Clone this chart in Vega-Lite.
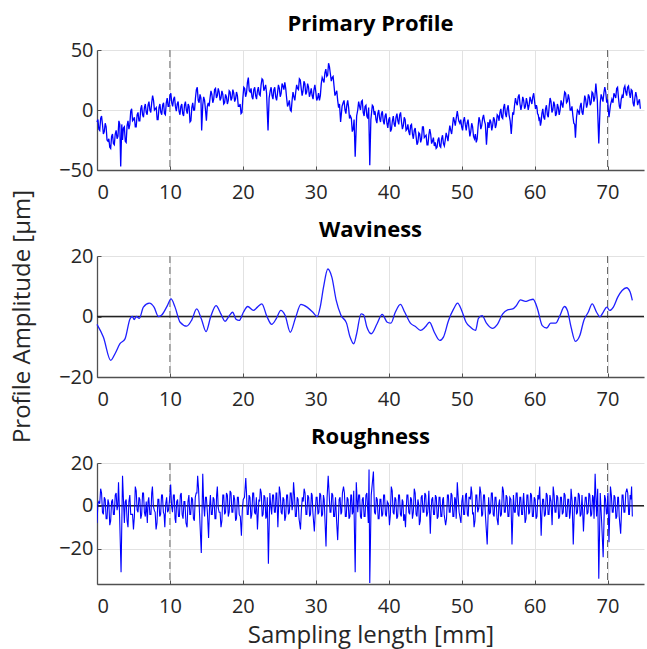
{
  "$schema": "https://vega.github.io/schema/vega-lite/v6.json",
  "padding": {"left": 10, "top": 13, "right": 0, "bottom": 30},
  "spacing": 86,
  "bounds": "flush",
  "datasets": {
    "dash": [{"x": 10}, {"x": 70}],
    "zero": [{"y": 0}],
    "primary": [
      {"x":0,"y":-10},{"x":0.25,"y":-16},{"x":0.5,"y":-7},{"x":0.75,"y":-12},{"x":1,"y":-18},{"x":1.25,"y":-14},{"x":1.5,"y":-26},{"x":1.75,"y":-31},{"x":2,"y":-22},{"x":2.25,"y":-28},{"x":2.5,"y":-20},{"x":2.75,"y":-24},{"x":3,"y":-9},{"x":3.25,"y":-47},{"x":3.4,"y":-12},{"x":3.5,"y":-25},{"x":3.75,"y":-14},{"x":4,"y":-27},{"x":4.25,"y":-9},{"x":4.5,"y":-12},{"x":4.75,"y":1},{"x":5,"y":-8},{"x":5.25,"y":-14},{"x":5.5,"y":-4},{"x":5.75,"y":-9},{"x":6,"y":1},{"x":6.25,"y":-4},{"x":6.5,"y":2},{"x":6.75,"y":-2},{"x":7,"y":4},{"x":7.25,"y":0},{"x":7.5,"y":6},{"x":7.75,"y":8},{"x":8,"y":1},{"x":8.25,"y":-8},{"x":8.5,"y":2},{"x":8.75,"y":-2},{"x":9,"y":4},{"x":9.25,"y":-3},{"x":9.5,"y":6},{"x":9.75,"y":3},
      {"x":10,"y":12},{"x":10.25,"y":6},{"x":10.5,"y":9},{"x":10.75,"y":3},{"x":11,"y":5},{"x":11.25,"y":-1},{"x":11.5,"y":3},{"x":11.75,"y":-3},{"x":12,"y":4},{"x":12.25,"y":0},{"x":12.5,"y":5},{"x":12.75,"y":-10},{"x":13,"y":2},{"x":13.25,"y":0},{"x":13.5,"y":10},{"x":13.75,"y":19},{"x":14,"y":6},{"x":14.25,"y":10},{"x":14.35,"y":-17},{"x":14.5,"y":4},{"x":14.75,"y":8},{"x":15,"y":-9},{"x":15.25,"y":6},{"x":15.5,"y":10},{"x":15.75,"y":13},{"x":16,"y":9},{"x":16.25,"y":18},{"x":16.5,"y":12},{"x":16.75,"y":15},{"x":17,"y":10},{"x":17.25,"y":13},{"x":17.5,"y":6},{"x":17.75,"y":11},{"x":18,"y":8},{"x":18.25,"y":15},{"x":18.5,"y":10},{"x":18.75,"y":14},{"x":19,"y":9},{"x":19.25,"y":12},{"x":19.5,"y":3},{"x":19.75,"y":-3},
      {"x":20,"y":10},{"x":20.25,"y":18},{"x":20.5,"y":14},{"x":20.75,"y":27},{"x":21,"y":15},{"x":21.25,"y":11},{"x":21.5,"y":17},{"x":21.75,"y":12},{"x":22,"y":16},{"x":22.25,"y":13},{"x":22.5,"y":21},{"x":22.75,"y":25},{"x":23,"y":18},{"x":23.25,"y":14},{"x":23.45,"y":-17},{"x":23.6,"y":10},{"x":23.75,"y":16},{"x":24,"y":12},{"x":24.25,"y":17},{"x":24.5,"y":11},{"x":24.75,"y":14},{"x":25,"y":18},{"x":25.25,"y":14},{"x":25.5,"y":20},{"x":25.75,"y":23},{"x":26,"y":10},{"x":26.25,"y":5},{"x":26.5,"y":0},{"x":26.75,"y":8},{"x":27,"y":11},{"x":27.25,"y":15},{"x":27.5,"y":18},{"x":27.75,"y":26},{"x":28,"y":18},{"x":28.25,"y":16},{"x":28.5,"y":22},{"x":28.75,"y":15},{"x":29,"y":19},{"x":29.25,"y":14},{"x":29.5,"y":12},{"x":29.75,"y":17},
      {"x":30,"y":15},{"x":30.25,"y":10},{"x":30.5,"y":8},{"x":30.75,"y":22},{"x":31,"y":25},{"x":31.25,"y":31},{"x":31.5,"y":28},{"x":31.75,"y":39},{"x":32,"y":30},{"x":32.25,"y":27},{"x":32.5,"y":20},{"x":32.75,"y":14},{"x":33,"y":8},{"x":33.25,"y":5},{"x":33.4,"y":-10},{"x":33.6,"y":3},{"x":33.75,"y":6},{"x":34,"y":0},{"x":34.25,"y":4},{"x":34.5,"y":2},{"x":34.75,"y":-5},{"x":35,"y":-18},{"x":35.25,"y":-8},{"x":35.4,"y":-39},{"x":35.6,"y":-5},{"x":35.75,"y":0},{"x":36,"y":3},{"x":36.25,"y":7},{"x":36.5,"y":-2},{"x":36.75,"y":3},{"x":37,"y":-5},{"x":37.25,"y":2},{"x":37.4,"y":-46},{"x":37.55,"y":-8},{"x":37.75,"y":4},{"x":38,"y":-4},{"x":38.25,"y":-8},{"x":38.5,"y":-3},{"x":38.75,"y":-7},{"x":39,"y":-3},{"x":39.25,"y":-9},{"x":39.5,"y":-5},{"x":39.75,"y":-11},
      {"x":40,"y":-8},{"x":40.25,"y":-18},{"x":40.5,"y":-9},{"x":40.75,"y":-12},{"x":41,"y":-6},{"x":41.25,"y":-9},{"x":41.5,"y":-4},{"x":41.75,"y":-10},{"x":42,"y":-13},{"x":42.25,"y":-8},{"x":42.5,"y":-16},{"x":42.75,"y":-18},{"x":43,"y":-13},{"x":43.25,"y":-20},{"x":43.5,"y":-17},{"x":43.75,"y":-22},{"x":44,"y":-27},{"x":44.25,"y":-20},{"x":44.5,"y":-24},{"x":44.75,"y":-14},{"x":45,"y":-22},{"x":45.25,"y":-29},{"x":45.5,"y":-21},{"x":45.75,"y":-20},{"x":46,"y":-26},{"x":46.25,"y":-30},{"x":46.5,"y":-32},{"x":46.75,"y":-25},{"x":47,"y":-30},{"x":47.25,"y":-24},{"x":47.5,"y":-28},{"x":47.75,"y":-25},{"x":48,"y":-22},{"x":48.25,"y":-19},{"x":48.5,"y":-17},{"x":48.75,"y":-13},{"x":49,"y":-9},{"x":49.25,"y":-7},{"x":49.4,"y":-1},{"x":49.6,"y":-9},{"x":49.75,"y":-11},
      {"x":50,"y":-14},{"x":50.25,"y":-9},{"x":50.5,"y":-12},{"x":50.75,"y":-11},{"x":51,"y":-15},{"x":51.25,"y":-18},{"x":51.5,"y":-14},{"x":51.75,"y":-24},{"x":52,"y":-27},{"x":52.25,"y":-14},{"x":52.5,"y":-9},{"x":52.75,"y":-13},{"x":53,"y":-4},{"x":53.25,"y":-12},{"x":53.4,"y":-29},{"x":53.6,"y":-10},{"x":53.75,"y":-15},{"x":54,"y":-10},{"x":54.25,"y":-13},{"x":54.5,"y":-8},{"x":54.75,"y":-12},{"x":55,"y":-5},{"x":55.25,"y":-2},{"x":55.5,"y":-6},{"x":55.75,"y":2},{"x":56,"y":-3},{"x":56.25,"y":1},{"x":56.5,"y":-4},{"x":56.8,"y":-20},{"x":57,"y":-2},{"x":57.25,"y":4},{"x":57.5,"y":6},{"x":57.75,"y":11},{"x":58,"y":5},{"x":58.25,"y":4},{"x":58.5,"y":8},{"x":58.75,"y":3},{"x":59,"y":6},{"x":59.25,"y":4},{"x":59.5,"y":8},{"x":59.75,"y":11},
      {"x":60,"y":7},{"x":60.25,"y":4},{"x":60.4,"y":-3},{"x":60.6,"y":-8},{"x":60.8,"y":-13},{"x":61,"y":-3},{"x":61.25,"y":-6},{"x":61.5,"y":1},{"x":61.75,"y":-4},{"x":62,"y":3},{"x":62.25,"y":7},{"x":62.5,"y":0},{"x":62.75,"y":4},{"x":63,"y":-3},{"x":63.25,"y":2},{"x":63.5,"y":0},{"x":63.75,"y":5},{"x":64,"y":9},{"x":64.25,"y":14},{"x":64.5,"y":7},{"x":64.75,"y":9},{"x":65,"y":0},{"x":65.25,"y":-5},{"x":65.5,"y":-12},{"x":65.6,"y":-23},{"x":65.75,"y":-6},{"x":66,"y":-1},{"x":66.25,"y":3},{"x":66.5,"y":-2},{"x":66.75,"y":4},{"x":67,"y":9},{"x":67.25,"y":5},{"x":67.5,"y":11},{"x":67.75,"y":6},{"x":68,"y":14},{"x":68.25,"y":10},{"x":68.4,"y":22},{"x":68.6,"y":8},{"x":68.8,"y":-28},{"x":69,"y":6},{"x":69.25,"y":10},{"x":69.5,"y":14},{"x":69.75,"y":15},
      {"x":70,"y":8},{"x":70.2,"y":-6},{"x":70.4,"y":4},{"x":70.6,"y":9},{"x":70.75,"y":6},{"x":71,"y":12},{"x":71.25,"y":18},{"x":71.5,"y":10},{"x":71.75,"y":1},{"x":72,"y":12},{"x":72.25,"y":18},{"x":72.5,"y":15},{"x":72.75,"y":19},{"x":73,"y":14},{"x":73.25,"y":17},{"x":73.5,"y":6},{"x":73.75,"y":10},{"x":74,"y":11},{"x":74.25,"y":7},{"x":74.5,"y":1},
      {"x":0.125,"y":-8},{"x":0.375,"y":-17},{"x":0.625,"y":-5},{"x":0.875,"y":-20},{"x":1.125,"y":-11},{"x":1.375,"y":-25},{"x":1.625,"y":-24},{"x":1.875,"y":-32},{"x":2.125,"y":-20},{"x":2.375,"y":-29},{"x":2.625,"y":-17},{"x":2.875,"y":-22},{"x":3.125,"y":-12},{"x":3.625,"y":-15},{"x":3.875,"y":-26},{"x":4.125,"y":-13},{"x":4.375,"y":-16},{"x":4.625,"y":-1},{"x":4.875,"y":-9},{"x":5.125,"y":-6},{"x":5.375,"y":-14},{"x":5.625,"y":-2},{"x":5.875,"y":-9},{"x":6.125,"y":4},{"x":6.375,"y":-6},{"x":6.625,"y":5},{"x":6.875,"y":-4},{"x":7.125,"y":7},{"x":7.375,"y":-2},{"x":7.625,"y":12},{"x":7.875,"y":0},{"x":8.125,"y":2},{"x":8.375,"y":-8},{"x":8.625,"y":5},{"x":8.875,"y":-4},{"x":9.125,"y":6},{"x":9.375,"y":-4},{"x":9.625,"y":10},{"x":9.875,"y":3},
      {"x":10.125,"y":14},{"x":10.375,"y":3},{"x":10.625,"y":11},{"x":10.875,"y":-1},{"x":11.125,"y":7},{"x":11.375,"y":-4},{"x":11.625,"y":5},{"x":11.875,"y":-5},{"x":12.125,"y":7},{"x":12.375,"y":-3},{"x":12.625,"y":3},{"x":12.875,"y":-9},{"x":13.125,"y":6},{"x":13.375,"y":0},{"x":13.625,"y":17},{"x":13.875,"y":8},{"x":14.125,"y":13},{"x":14.625,"y":11},{"x":14.875,"y":0},{"x":15.125,"y":3},{"x":15.375,"y":3},{"x":15.625,"y":16},{"x":15.875,"y":6},{"x":16.125,"y":17},{"x":16.375,"y":10},{"x":16.625,"y":18},{"x":16.875,"y":8},{"x":17.125,"y":16},{"x":17.375,"y":5},{"x":17.625,"y":13},{"x":17.875,"y":5},{"x":18.125,"y":16},{"x":18.375,"y":8},{"x":18.625,"y":17},{"x":18.875,"y":7},{"x":19.125,"y":15},{"x":19.375,"y":3},{"x":19.625,"y":5},{"x":19.875,"y":-2},
      {"x":20.125,"y":19},{"x":20.375,"y":11},{"x":20.625,"y":23},{"x":20.875,"y":16},{"x":21.125,"y":18},{"x":21.375,"y":9},{"x":21.625,"y":19},{"x":21.875,"y":9},{"x":22.125,"y":19},{"x":22.375,"y":12},{"x":22.625,"y":26},{"x":22.875,"y":16},{"x":23.125,"y":21},{"x":23.875,"y":19},{"x":24.125,"y":9},{"x":24.375,"y":19},{"x":24.625,"y":8},{"x":24.875,"y":21},{"x":25.125,"y":11},{"x":25.375,"y":22},{"x":25.625,"y":17},{"x":25.875,"y":18},{"x":26.125,"y":3},{"x":26.375,"y":8},{"x":26.625,"y":-1},{"x":26.875,"y":15},{"x":27.125,"y":8},{"x":27.375,"y":21},{"x":27.625,"y":17},{"x":27.875,"y":25},{"x":28.125,"y":12},{"x":28.375,"y":24},{"x":28.625,"y":13},{"x":28.875,"y":22},{"x":29.125,"y":11},{"x":29.375,"y":18},{"x":29.625,"y":9},{"x":29.875,"y":21},
      {"x":30.125,"y":8},{"x":30.375,"y":14},{"x":30.625,"y":12},{"x":30.875,"y":27},{"x":31.125,"y":23},{"x":31.375,"y":34},{"x":31.625,"y":29},{"x":31.875,"y":36},{"x":32.125,"y":24},{"x":32.375,"y":28},{"x":32.625,"y":12},{"x":32.875,"y":16},{"x":33.125,"y":2},{"x":33.875,"y":8},{"x":34.125,"y":-3},{"x":34.375,"y":8},{"x":34.625,"y":-7},{"x":34.875,"y":-7},{"x":35.125,"y":-16},{"x":35.875,"y":7},{"x":36.125,"y":0},{"x":36.375,"y":8},{"x":36.625,"y":-5},{"x":36.875,"y":4},{"x":37.125,"y":-7},{"x":37.875,"y":3},{"x":38.125,"y":-1},{"x":38.375,"y":-11},{"x":38.625,"y":0},{"x":38.875,"y":-10},{"x":39.125,"y":-1},{"x":39.375,"y":-12},{"x":39.625,"y":-3},{"x":39.875,"y":-15},
      {"x":40.125,"y":-6},{"x":40.375,"y":-16},{"x":40.625,"y":-5},{"x":40.875,"y":-14},{"x":41.125,"y":-3},{"x":41.375,"y":-12},{"x":41.625,"y":-2},{"x":41.875,"y":-16},{"x":42.125,"y":-6},{"x":42.375,"y":-17},{"x":42.625,"y":-12},{"x":42.875,"y":-21},{"x":43.125,"y":-12},{"x":43.375,"y":-24},{"x":43.625,"y":-15},{"x":43.875,"y":-29},{"x":44.125,"y":-19},{"x":44.375,"y":-27},{"x":44.625,"y":-14},{"x":44.875,"y":-23},{"x":45.125,"y":-21},{"x":45.375,"y":-29},{"x":45.625,"y":-16},{"x":45.875,"y":-28},{"x":46.125,"y":-23},{"x":46.375,"y":-27},{"x":46.625,"y":-31},{"x":46.875,"y":-23},{"x":47.125,"y":-31},{"x":47.375,"y":-21},{"x":47.625,"y":-30},{"x":47.875,"y":-19},{"x":48.125,"y":-26},{"x":48.375,"y":-13},{"x":48.625,"y":-20},{"x":48.875,"y":-6},{"x":49.125,"y":-13},{"x":49.875,"y":-8},
      {"x":50.125,"y":-17},{"x":50.375,"y":-6},{"x":50.625,"y":-17},{"x":50.875,"y":-8},{"x":51.125,"y":-22},{"x":51.375,"y":-11},{"x":51.625,"y":-22},{"x":51.875,"y":-20},{"x":52.125,"y":-24},{"x":52.375,"y":-6},{"x":52.625,"y":-16},{"x":52.875,"y":-7},{"x":53.125,"y":-9},{"x":53.875,"y":-8},{"x":54.125,"y":-17},{"x":54.375,"y":-6},{"x":54.625,"y":-15},{"x":54.875,"y":-4},{"x":55.125,"y":-9},{"x":55.375,"y":1},{"x":55.625,"y":-7},{"x":55.875,"y":5},{"x":56.125,"y":-6},{"x":56.375,"y":4},{"x":56.65,"y":-9},{"x":57.125,"y":-4},{"x":57.375,"y":10},{"x":57.625,"y":4},{"x":57.875,"y":13},{"x":58.125,"y":0},{"x":58.375,"y":11},{"x":58.625,"y":1},{"x":58.875,"y":10},{"x":59.125,"y":0},{"x":59.375,"y":11},{"x":59.625,"y":5},{"x":59.875,"y":14},
      {"x":60.125,"y":1},{"x":60.325,"y":2},{"x":60.5,"y":-4},{"x":60.7,"y":-7},{"x":60.9,"y":-10},{"x":61.125,"y":1},{"x":61.375,"y":-8},{"x":61.625,"y":4},{"x":61.875,"y":-6},{"x":62.125,"y":10},{"x":62.375,"y":-2},{"x":62.625,"y":7},{"x":62.875,"y":-5},{"x":63.125,"y":5},{"x":63.375,"y":-4},{"x":63.625,"y":8},{"x":63.875,"y":2},{"x":64.125,"y":15},{"x":64.375,"y":6},{"x":64.625,"y":13},{"x":64.875,"y":0},{"x":65.125,"y":3},{"x":65.375,"y":-11},{"x":65.875,"y":0},{"x":66.125,"y":-4},{"x":66.375,"y":6},{"x":66.625,"y":-4},{"x":66.875,"y":12},{"x":67.125,"y":2},{"x":67.375,"y":13},{"x":67.625,"y":4},{"x":67.875,"y":15},{"x":68.125,"y":7},{"x":69.125,"y":13},{"x":69.375,"y":7},{"x":69.625,"y":19},{"x":69.875,"y":7},
      {"x":70.875,"y":14},{"x":71.125,"y":10},{"x":71.375,"y":19},{"x":71.625,"y":3},{"x":71.875,"y":9},{"x":72.125,"y":10},{"x":72.375,"y":20},{"x":72.625,"y":12},{"x":72.875,"y":20},{"x":73.125,"y":10},{"x":73.375,"y":16},{"x":73.625,"y":3},{"x":73.875,"y":15},{"x":74.125,"y":4},{"x":74.375,"y":9}
    ],
    "wav": [
      {"x":0,"y":-2.6},{"x":0.87,"y":-6.8},{"x":1.88,"y":-14.5},{"x":2.47,"y":-12.3},{"x":3.15,"y":-9},{"x":3.84,"y":-7.4},{"x":4.52,"y":-0.8},{"x":4.85,"y":0},{"x":5.1,"y":-1},{"x":5.4,"y":0},{"x":5.8,"y":-0.6},{"x":6.36,"y":3.1},{"x":7.18,"y":4.4},{"x":7.82,"y":3.1},{"x":8.42,"y":0},{"x":8.88,"y":0.5},{"x":9.65,"y":3.6},{"x":10.15,"y":5.8},{"x":10.7,"y":3.1},{"x":11.4,"y":-1.9},{"x":12.3,"y":-3.2},{"x":13,"y":-1.1},{"x":13.67,"y":2.5},{"x":14.35,"y":-1.1},{"x":14.95,"y":-5},{"x":15.6,"y":0},{"x":16.32,"y":3.6},{"x":17,"y":0.8},{"x":17.55,"y":-1.6},{"x":18.15,"y":0.3},{"x":18.6,"y":1.4},{"x":19.06,"y":-0.9},{"x":19.5,"y":-1.3},{"x":20.07,"y":1.4},{"x":20.67,"y":3.3},{"x":21.45,"y":2},{"x":22,"y":3.1},{"x":22.6,"y":4.2},{"x":23.3,"y":0},{"x":23.95,"y":-2.6},{"x":24.6,"y":-0.6},{"x":25.2,"y":2},{"x":25.8,"y":0.3},{"x":26.5,"y":-5.2},{"x":27.2,"y":-0.6},{"x":27.96,"y":4},{"x":28.8,"y":3.1},{"x":29.6,"y":1.4},{"x":30.2,"y":0},{"x":30.6,"y":3.1},{"x":31.06,"y":9.7},{"x":31.65,"y":15.7},{"x":32.2,"y":13},{"x":32.8,"y":5.3},{"x":33.45,"y":0.4},{"x":34.2,"y":-2.1},{"x":34.7,"y":-6.8},{"x":35.2,"y":-9},{"x":35.6,"y":-5.7},{"x":36.2,"y":0.9},{"x":36.55,"y":0.6},{"x":37,"y":-3.5},{"x":37.6,"y":-5.7},{"x":38.4,"y":-2.4},{"x":39.1,"y":0.7},{"x":39.8,"y":-1.9},{"x":40.3,"y":-2.2},{"x":40.9,"y":1.4},{"x":41.6,"y":4},{"x":42.2,"y":1.4},{"x":42.97,"y":-2.2},{"x":43.66,"y":-3.3},{"x":44.35,"y":-4.6},{"x":45,"y":-3.5},{"x":45.6,"y":-1.9},{"x":46.25,"y":-5.2},{"x":47,"y":-7.9},{"x":47.5,"y":-6.8},{"x":48.2,"y":-1.3},{"x":48.9,"y":2.5},{"x":49.44,"y":4.4},{"x":50,"y":2},{"x":50.6,"y":-1.9},{"x":51.2,"y":-3.5},{"x":51.9,"y":-4.6},{"x":52.3,"y":-0.6},{"x":52.8,"y":0.3},{"x":53.4,"y":-2.2},{"x":54.2,"y":-3.9},{"x":54.9,"y":-2.6},{"x":55.6,"y":0.8},{"x":56.3,"y":2.2},{"x":57,"y":2.5},{"x":57.5,"y":3.6},{"x":58.06,"y":5.5},{"x":58.74,"y":5},{"x":59.2,"y":5.3},{"x":59.8,"y":5.7},{"x":60.4,"y":2.5},{"x":61.05,"y":-3},{"x":61.67,"y":-3.8},{"x":62.2,"y":-2.2},{"x":62.9,"y":-2.2},{"x":63.4,"y":-0.1},{"x":64.1,"y":3.3},{"x":64.5,"y":2},{"x":65,"y":-3.5},{"x":65.6,"y":-8.2},{"x":66.2,"y":-6.3},{"x":66.75,"y":-1.3},{"x":67.35,"y":1.4},{"x":67.9,"y":4.2},{"x":68.5,"y":1.4},{"x":68.95,"y":-0.1},{"x":69.4,"y":1.4},{"x":69.9,"y":3.1},{"x":70.3,"y":2},{"x":70.8,"y":3.1},{"x":71.4,"y":6.4},{"x":72,"y":8.6},{"x":72.6,"y":9.5},{"x":73.1,"y":8.1},{"x":73.4,"y":5.3}
    ],
    "rough": [
      {"x":0,"y":-8},{"x":0.25,"y":2},{"x":0.5,"y":8},{"x":0.75,"y":-3},{"x":1,"y":4},{"x":1.25,"y":-6},{"x":1.5,"y":3},{"x":1.75,"y":-9},{"x":2,"y":2},{"x":2.25,"y":-4},{"x":2.5,"y":5},{"x":2.75,"y":-2},{"x":2.95,"y":11},{"x":3.1,"y":-5},{"x":3.3,"y":-31},{"x":3.5,"y":14},{"x":3.75,"y":-8},{"x":4,"y":3},{"x":4.25,"y":-10},{"x":4.5,"y":5},{"x":4.75,"y":-4},{"x":5,"y":-11},{"x":5.25,"y":9},{"x":5.5,"y":-2},{"x":5.75,"y":4},{"x":6,"y":-6},{"x":6.25,"y":6},{"x":6.5,"y":-3},{"x":6.75,"y":2},{"x":6.9,"y":-8},{"x":7.1,"y":4},{"x":7.4,"y":-4},{"x":7.6,"y":9},{"x":7.85,"y":-2},{"x":8.1,"y":-11},{"x":8.35,"y":3},{"x":8.6,"y":-5},{"x":8.85,"y":5},{"x":9.1,"y":-3},{"x":9.3,"y":-10},{"x":9.55,"y":4},{"x":9.8,"y":-2},
      {"x":10.1,"y":10},{"x":10.35,"y":-3},{"x":10.6,"y":5},{"x":10.8,"y":-8},{"x":11.05,"y":3},{"x":11.3,"y":-5},{"x":11.55,"y":6},{"x":11.8,"y":-6},{"x":12.05,"y":2},{"x":12.35,"y":-10},{"x":12.6,"y":5},{"x":12.85,"y":-4},{"x":13.1,"y":3},{"x":13.35,"y":-7},{"x":13.6,"y":6},{"x":13.8,"y":14},{"x":14.05,"y":-3},{"x":14.3,"y":-22},{"x":14.5,"y":15},{"x":14.75,"y":-5},{"x":15,"y":4},{"x":15.3,"y":-15},{"x":15.55,"y":5},{"x":15.8,"y":-4},{"x":16.05,"y":3},{"x":16.3,"y":-6},{"x":16.5,"y":9},{"x":16.75,"y":-3},{"x":17,"y":-10},{"x":17.25,"y":5},{"x":17.5,"y":-4},{"x":17.75,"y":6},{"x":18,"y":-5},{"x":18.25,"y":7},{"x":18.5,"y":-3},{"x":18.75,"y":5},{"x":19,"y":-7},{"x":19.25,"y":4},{"x":19.5,"y":-4},{"x":19.8,"y":-14},
      {"x":20.05,"y":3},{"x":20.4,"y":13},{"x":20.6,"y":-4},{"x":20.85,"y":5},{"x":21.1,"y":-6},{"x":21.35,"y":6},{"x":21.6,"y":-3},{"x":21.85,"y":4},{"x":22,"y":-11},{"x":22.2,"y":3},{"x":22.4,"y":8},{"x":22.65,"y":-5},{"x":22.9,"y":5},{"x":23.15,"y":-6},{"x":23.35,"y":4},{"x":23.5,"y":-27},{"x":23.7,"y":6},{"x":23.95,"y":-4},{"x":24.2,"y":5},{"x":24.45,"y":-3},{"x":24.65,"y":6},{"x":24.8,"y":-10},{"x":25,"y":9},{"x":25.25,"y":-3},{"x":25.5,"y":4},{"x":25.75,"y":-7},{"x":26,"y":5},{"x":26.25,"y":-4},{"x":26.5,"y":6},{"x":26.75,"y":-2},{"x":26.95,"y":11},{"x":27.2,"y":-5},{"x":27.45,"y":4},{"x":27.7,"y":-6},{"x":27.9,"y":-11},{"x":28.15,"y":4},{"x":28.4,"y":8},{"x":28.65,"y":-4},{"x":28.9,"y":5},{"x":29.15,"y":-5},{"x":29.4,"y":6},{"x":29.6,"y":-3},{"x":29.8,"y":-12},
      {"x":30.05,"y":4},{"x":30.3,"y":-4},{"x":30.55,"y":6},{"x":30.8,"y":-5},{"x":31.05,"y":5},{"x":31.25,"y":-6},{"x":31.4,"y":-19},{"x":31.55,"y":4},{"x":31.7,"y":14},{"x":31.95,"y":-3},{"x":32.2,"y":6},{"x":32.45,"y":-5},{"x":32.7,"y":4},{"x":32.85,"y":-7},{"x":33,"y":-16},{"x":33.2,"y":3},{"x":33.45,"y":-4},{"x":33.65,"y":6},{"x":33.8,"y":9},{"x":34.05,"y":-5},{"x":34.3,"y":4},{"x":34.55,"y":-6},{"x":34.8,"y":5},{"x":35,"y":-4},{"x":35.2,"y":7},{"x":35.4,"y":-31},{"x":35.55,"y":11},{"x":35.75,"y":-3},{"x":36,"y":5},{"x":36.25,"y":-6},{"x":36.5,"y":4},{"x":36.75,"y":-5},{"x":37,"y":6},{"x":37.2,"y":-8},{"x":37.3,"y":17},{"x":37.4,"y":-36},{"x":37.6,"y":5},{"x":37.9,"y":16},{"x":38.05,"y":-3},{"x":38.3,"y":4},{"x":38.55,"y":-6},{"x":38.8,"y":3},{"x":39.05,"y":-5},{"x":39.3,"y":5},{"x":39.55,"y":-4},{"x":39.8,"y":2},
      {"x":40.1,"y":-9},{"x":40.35,"y":9},{"x":40.6,"y":-3},{"x":40.85,"y":4},{"x":41.1,"y":-6},{"x":41.35,"y":5},{"x":41.6,"y":-4},{"x":41.85,"y":3},{"x":42.05,"y":-7},{"x":42.3,"y":-10},{"x":42.5,"y":5},{"x":42.75,"y":-3},{"x":43,"y":4},{"x":43.25,"y":-6},{"x":43.5,"y":8},{"x":43.75,"y":-4},{"x":44,"y":3},{"x":44.2,"y":-9},{"x":44.45,"y":4},{"x":44.7,"y":-3},{"x":44.95,"y":6},{"x":45.2,"y":-5},{"x":45.5,"y":7},{"x":45.7,"y":-13},{"x":45.9,"y":3},{"x":46.15,"y":-4},{"x":46.4,"y":5},{"x":46.65,"y":-6},{"x":46.9,"y":4},{"x":47.15,"y":-5},{"x":47.4,"y":3},{"x":47.6,"y":-4},{"x":47.8,"y":-9},{"x":48.05,"y":5},{"x":48.3,"y":-3},{"x":48.55,"y":6},{"x":48.8,"y":-5},{"x":49.05,"y":4},{"x":49.25,"y":-6},{"x":49.4,"y":11},{"x":49.65,"y":-3},{"x":49.9,"y":-8},
      {"x":50.15,"y":5},{"x":50.4,"y":-4},{"x":50.65,"y":6},{"x":50.9,"y":-5},{"x":51.1,"y":4},{"x":51.3,"y":9},{"x":51.5,"y":-4},{"x":51.7,"y":-10},{"x":51.95,"y":5},{"x":52.2,"y":-3},{"x":52.5,"y":9},{"x":52.75,"y":-5},{"x":53,"y":5},{"x":53.25,"y":-4},{"x":53.5,"y":-18},{"x":53.7,"y":4},{"x":53.95,"y":-3},{"x":54.2,"y":6},{"x":54.45,"y":-5},{"x":54.7,"y":4},{"x":55,"y":-9},{"x":55.2,"y":3},{"x":55.45,"y":-4},{"x":55.6,"y":9},{"x":55.85,"y":-3},{"x":56.1,"y":5},{"x":56.35,"y":-5},{"x":56.6,"y":4},{"x":56.9,"y":-18},{"x":57.1,"y":5},{"x":57.35,"y":-3},{"x":57.6,"y":6},{"x":57.85,"y":-5},{"x":58.1,"y":4},{"x":58.35,"y":-4},{"x":58.5,"y":6},{"x":58.7,"y":-8},{"x":58.95,"y":5},{"x":59.2,"y":-4},{"x":59.45,"y":6},{"x":59.7,"y":-5},{"x":59.95,"y":4},
      {"x":60.2,"y":-6},{"x":60.45,"y":5},{"x":60.7,"y":9},{"x":60.9,"y":-14},{"x":61.1,"y":3},{"x":61.35,"y":-5},{"x":61.6,"y":6},{"x":61.85,"y":-4},{"x":62.1,"y":5},{"x":62.4,"y":-9},{"x":62.55,"y":9},{"x":62.8,"y":-3},{"x":63.05,"y":5},{"x":63.3,"y":-6},{"x":63.55,"y":4},{"x":63.8,"y":-4},{"x":64.05,"y":6},{"x":64.3,"y":-5},{"x":64.55,"y":3},{"x":64.8,"y":-6},{"x":65,"y":8},{"x":65.3,"y":-18},{"x":65.5,"y":4},{"x":65.75,"y":-4},{"x":66,"y":6},{"x":66.25,"y":-5},{"x":66.5,"y":5},{"x":66.7,"y":-12},{"x":66.95,"y":4},{"x":67.2,"y":-4},{"x":67.45,"y":6},{"x":67.7,"y":-5},{"x":67.95,"y":5},{"x":68.15,"y":-6},{"x":68.3,"y":15},{"x":68.5,"y":-5},{"x":68.65,"y":8},{"x":68.8,"y":-34},{"x":69,"y":6},{"x":69.2,"y":-8},{"x":69.4,"y":-24},{"x":69.6,"y":5},{"x":69.85,"y":-4},
      {"x":70.05,"y":6},{"x":70.2,"y":-17},{"x":70.4,"y":9},{"x":70.65,"y":-3},{"x":70.9,"y":5},{"x":71.15,"y":-6},{"x":71.4,"y":4},{"x":71.6,"y":-5},{"x":71.8,"y":-13},{"x":72,"y":5},{"x":72.25,"y":-3},{"x":72.5,"y":6},{"x":72.65,"y":8},{"x":72.9,"y":-4},{"x":73.1,"y":5},{"x":73.3,"y":9},{"x":73.4,"y":-5},
      {"x":0.125,"y":1},{"x":0.375,"y":1},{"x":0.625,"y":6},{"x":0.875,"y":-4},{"x":1.125,"y":3},{"x":1.375,"y":-6},{"x":1.625,"y":1},{"x":1.875,"y":-7},{"x":2.125,"y":3},{"x":2.375,"y":-4},{"x":2.625,"y":6},{"x":2.85,"y":0},{"x":3.875,"y":2},{"x":4.125,"y":-7},{"x":4.375,"y":2},{"x":4.625,"y":-4},{"x":4.875,"y":-4},{"x":5.125,"y":-5},{"x":5.375,"y":7},{"x":5.625,"y":-3},{"x":5.875,"y":3},{"x":6.125,"y":-4},{"x":6.375,"y":6},{"x":6.625,"y":-5},{"x":7.0,"y":2},{"x":7.25,"y":-4},{"x":7.5,"y":6},{"x":7.725,"y":0},{"x":7.975,"y":-3},{"x":8.225,"y":-8},{"x":8.475,"y":3},{"x":8.725,"y":-4},{"x":8.975,"y":5},{"x":9.2,"y":-4},{"x":9.425,"y":1},{"x":9.675,"y":-3},{"x":9.95,"y":3},
      {"x":10.225,"y":0},{"x":10.475,"y":5},{"x":10.7,"y":-6},{"x":10.925,"y":2},{"x":11.175,"y":-5},{"x":11.425,"y":5},{"x":11.675,"y":-4},{"x":11.925,"y":2},{"x":12.2,"y":-8},{"x":12.475,"y":2},{"x":12.725,"y":-4},{"x":12.975,"y":4},{"x":13.225,"y":-6},{"x":13.475,"y":4},{"x":13.7,"y":6},{"x":13.925,"y":8},{"x":14.625,"y":1},{"x":14.875,"y":4},{"x":15.15,"y":-4},{"x":15.425,"y":-1},{"x":15.675,"y":-4},{"x":15.925,"y":4},{"x":16.175,"y":-6},{"x":16.4,"y":5},{"x":16.625,"y":-1},{"x":16.875,"y":-3},{"x":17.125,"y":-7},{"x":17.375,"y":5},{"x":17.625,"y":-3},{"x":17.875,"y":5},{"x":18.125,"y":-3},{"x":18.375,"y":6},{"x":18.625,"y":-3},{"x":18.875,"y":3},{"x":19.125,"y":-6},{"x":19.375,"y":4},{"x":19.65,"y":-5},{"x":19.925,"y":-2},
      {"x":20.225,"y":4},{"x":20.5,"y":6},{"x":20.725,"y":-4},{"x":20.975,"y":4},{"x":21.225,"y":-4},{"x":21.475,"y":6},{"x":21.725,"y":-4},{"x":22.1,"y":-4},{"x":22.3,"y":2},{"x":22.525,"y":6},{"x":22.775,"y":-4},{"x":23.025,"y":4},{"x":23.25,"y":-5},{"x":23.825,"y":0},{"x":24.075,"y":5},{"x":24.325,"y":-3},{"x":24.55,"y":6},{"x":25.125,"y":6},{"x":25.375,"y":-4},{"x":25.625,"y":3},{"x":25.875,"y":-5},{"x":26.125,"y":5},{"x":26.375,"y":-3},{"x":26.625,"y":6},{"x":26.85,"y":1},{"x":27.075,"y":5},{"x":27.325,"y":-5},{"x":27.575,"y":3},{"x":28.025,"y":-2},{"x":28.275,"y":2},{"x":28.525,"y":6},{"x":28.775,"y":-4},{"x":29.025,"y":4},{"x":29.275,"y":-4},{"x":29.5,"y":5},{"x":29.925,"y":-3},
      {"x":30.175,"y":4},{"x":30.425,"y":-3},{"x":30.675,"y":5},{"x":30.925,"y":-4},{"x":31.15,"y":3},{"x":31.825,"y":6},{"x":32.075,"y":-3},{"x":32.325,"y":5},{"x":32.575,"y":-5},{"x":33.325,"y":4},{"x":33.55,"y":-3},{"x":33.925,"y":6},{"x":34.175,"y":-5},{"x":34.425,"y":3},{"x":34.675,"y":-5},{"x":34.9,"y":5},{"x":35.1,"y":-3},{"x":35.875,"y":5},{"x":36.125,"y":-5},{"x":36.375,"y":3},{"x":36.625,"y":-5},{"x":36.875,"y":5},{"x":38.175,"y":-4},{"x":38.425,"y":3},{"x":38.675,"y":-6},{"x":38.925,"y":3},{"x":39.175,"y":-4},{"x":39.425,"y":5},{"x":39.675,"y":-5},{"x":39.95,"y":1},
      {"x":40.225,"y":-4},{"x":40.475,"y":7},{"x":40.725,"y":-4},{"x":40.975,"y":3},{"x":41.225,"y":-5},{"x":41.475,"y":5},{"x":41.725,"y":-5},{"x":41.95,"y":2},{"x":42.175,"y":-4},{"x":42.4,"y":-1},{"x":42.625,"y":5},{"x":42.875,"y":-4},{"x":43.125,"y":3},{"x":43.375,"y":-3},{"x":43.625,"y":6},{"x":43.875,"y":-5},{"x":44.1,"y":1},{"x":44.325,"y":-7},{"x":44.575,"y":5},{"x":44.825,"y":-3},{"x":45.075,"y":5},{"x":45.35,"y":-3},{"x":45.8,"y":-3},{"x":46.025,"y":4},{"x":46.275,"y":-4},{"x":46.525,"y":4},{"x":46.775,"y":-5},{"x":47.025,"y":4},{"x":47.275,"y":-5},{"x":47.5,"y":4},{"x":47.925,"y":-6},{"x":48.175,"y":5},{"x":48.425,"y":-3},{"x":48.675,"y":5},{"x":48.925,"y":-5},{"x":49.15,"y":3},
      {"x":50.025,"y":2},{"x":50.275,"y":-4},{"x":50.525,"y":5},{"x":50.775,"y":-4},{"x":51.0,"y":4},{"x":51.2,"y":3},{"x":51.4,"y":6},{"x":51.6,"y":-3},{"x":51.825,"y":-7},{"x":52.075,"y":5},{"x":52.35,"y":-1},{"x":52.625,"y":6},{"x":52.875,"y":-4},{"x":53.125,"y":5},{"x":53.825,"y":-4},{"x":54.075,"y":6},{"x":54.325,"y":-4},{"x":54.575,"y":4},{"x":54.85,"y":-6},{"x":55.1,"y":1},{"x":55.325,"y":-5},{"x":55.725,"y":7},{"x":55.975,"y":-3},{"x":56.225,"y":4},{"x":56.475,"y":-5},{"x":56.75,"y":3},{"x":57.225,"y":-3},{"x":57.475,"y":6},{"x":57.725,"y":-4},{"x":57.975,"y":4},{"x":58.225,"y":-4},{"x":58.425,"y":3},{"x":58.825,"y":-6},{"x":59.075,"y":5},{"x":59.325,"y":-3},{"x":59.575,"y":5},{"x":59.825,"y":-5},
      {"x":60.075,"y":3},{"x":60.325,"y":-5},{"x":60.575,"y":3},{"x":61.0,"y":-4},{"x":61.225,"y":3},{"x":61.475,"y":-4},{"x":61.725,"y":5},{"x":61.975,"y":-4},{"x":62.25,"y":2},{"x":62.675,"y":5},{"x":62.925,"y":-3},{"x":63.175,"y":4},{"x":63.425,"y":-5},{"x":63.675,"y":4},{"x":63.925,"y":-3},{"x":64.175,"y":5},{"x":64.425,"y":-5},{"x":64.675,"y":3},{"x":64.9,"y":-3},{"x":65.15,"y":2},{"x":65.625,"y":4},{"x":65.875,"y":-3},{"x":66.125,"y":5},{"x":66.375,"y":-4},{"x":66.825,"y":-2},{"x":67.075,"y":4},{"x":67.325,"y":-3},{"x":67.575,"y":5},{"x":67.825,"y":-4},{"x":68.05,"y":4},{"x":69.725,"y":3},{"x":69.95,"y":-3},
      {"x":70.525,"y":5},{"x":70.775,"y":-3},{"x":71.025,"y":4},{"x":71.275,"y":-5},{"x":71.5,"y":4},{"x":71.9,"y":-4},{"x":72.125,"y":5},{"x":72.375,"y":-3},{"x":72.775,"y":6},{"x":73.0,"y":-4},{"x":73.2,"y":3}
    ]
  },
  "config": {
    "view": {"stroke": null},
    "font": "Open Sans",
    "axis": {
      "domainColor": "#505050",
      "domainWidth": 1.3,
      "tickColor": "#505050",
      "tickSize": -4,
      "labelColor": "#262626",
      "labelFont": "Open Sans",
      "labelFontSize": 20,
      "gridColor": "#e2e2e2",
      "gridWidth": 1,
      "titleFont": "Open Sans",
      "titleFontSize": 24,
      "titleFontWeight": "normal",
      "titleColor": "#262626"
    },
    "axisX": {"labelPadding": 16},
    "axisY": {"labelPadding": 8},
    "title": {"font": "Open Sans", "fontSize": 22, "fontWeight": "bold", "color": "#000000", "offset": 4}
  },
  "vconcat": [
    {
      "title": "Primary Profile",
      "width": 547,
      "height": 120,
      "layer": [
        {
          "data": {"name": "dash"},
          "mark": {"type": "rule", "color": "#666666", "strokeDash": [7, 4], "strokeWidth": 1},
          "encoding": {"x": {"field": "x", "type": "quantitative", "scale": {"domain": [0, 75], "nice": false}, "axis": {"values": [0,10,20,30,40,50,60,70], "title": null}}}
        },
        {
          "data": {"name": "primary"},
          "mark": {"type": "line", "color": "#0000ff", "strokeWidth": 1.3},
          "encoding": {
            "x": {"field": "x", "type": "quantitative", "scale": {"domain": [0, 75], "nice": false}, "axis": {"values": [0,10,20,30,40,50,60,70], "title": null}},
            "y": {"field": "y", "type": "quantitative", "scale": {"domain": [-50, 50], "nice": false}, "axis": {"values": [-50, 0, 50], "title": "Profile Amplitude [µm]", "titleY": 266, "titlePadding": 24}}
          }
        }
      ]
    },
    {
      "title": "Waviness",
      "width": 547,
      "height": 121,
      "layer": [
        {
          "data": {"name": "dash"},
          "mark": {"type": "rule", "color": "#666666", "strokeDash": [7, 4], "strokeWidth": 1},
          "encoding": {"x": {"field": "x", "type": "quantitative", "scale": {"domain": [0, 75], "nice": false}, "axis": {"values": [0,10,20,30,40,50,60,70], "title": null}}}
        },
        {
          "data": {"name": "zero"},
          "mark": {"type": "rule", "color": "#222222", "strokeWidth": 1.5},
          "encoding": {"y": {"field": "y", "type": "quantitative", "scale": {"domain": [-20, 20], "nice": false}, "axis": {"values": [-20, 0, 20], "title": null}}}
        },
        {
          "data": {"name": "wav"},
          "mark": {"type": "line", "color": "#1f1fff", "strokeWidth": 1.3, "interpolate": "monotone"},
          "encoding": {
            "x": {"field": "x", "type": "quantitative", "scale": {"domain": [0, 75], "nice": false}, "axis": {"values": [0,10,20,30,40,50,60,70], "title": null}},
            "y": {"field": "y", "type": "quantitative", "scale": {"domain": [-20, 20], "nice": false}, "axis": {"values": [-20, 0, 20], "title": null}}
          }
        }
      ]
    },
    {
      "title": "Roughness",
      "width": 547,
      "height": 121,
      "layer": [
        {
          "data": {"name": "dash"},
          "mark": {"type": "rule", "color": "#666666", "strokeDash": [7, 4], "strokeWidth": 1},
          "encoding": {"x": {"field": "x", "type": "quantitative", "scale": {"domain": [0, 75], "nice": false}, "axis": {"values": [0,10,20,30,40,50,60,70], "title": "Sampling length [mm]", "titlePadding": 7}}}
        },
        {
          "data": {"name": "zero"},
          "mark": {"type": "rule", "color": "#222222", "strokeWidth": 1.5},
          "encoding": {"y": {"field": "y", "type": "quantitative", "scale": {"domain": [-36.5, 20], "nice": false}, "axis": {"values": [-20, 0, 20], "title": null}}}
        },
        {
          "data": {"name": "rough"},
          "mark": {"type": "line", "color": "#0000ff", "strokeWidth": 1.1, "clip": true},
          "encoding": {
            "x": {"field": "x", "type": "quantitative", "scale": {"domain": [0, 75], "nice": false}, "axis": {"values": [0,10,20,30,40,50,60,70], "title": "Sampling length [mm]", "titlePadding": 7}},
            "y": {"field": "y", "type": "quantitative", "scale": {"domain": [-36.5, 20], "nice": false}, "axis": {"values": [-20, 0, 20], "title": null}}
          }
        }
      ]
    }
  ]
}
